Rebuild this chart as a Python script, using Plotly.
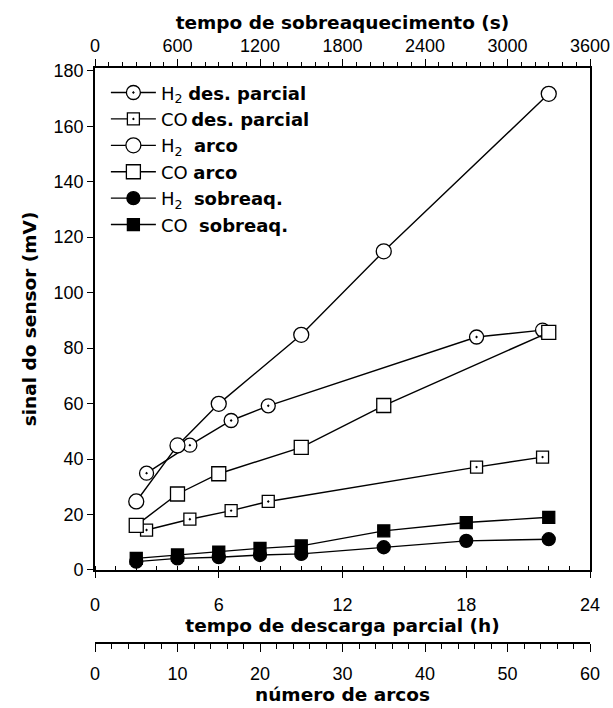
import plotly.graph_objects as go

# partial discharge time (h)
dp_h = [2.5, 4.6, 6.6, 8.4, 18.5, 21.7]
h2_dp = [34.9, 45.0, 53.9, 59.2, 84.0, 86.5]
co_dp = [14.4, 18.3, 21.4, 24.7, 37.1, 40.7]

# number of arcs
arcs = [5, 10, 15, 25, 35, 55]
h2_arco = [24.7, 44.9, 59.9, 84.8, 114.9, 171.7]
co_arco = [16.1, 27.4, 34.7, 44.2, 59.3, 85.7]

# overheating time (s)
sob_s = [300, 600, 900, 1200, 1500, 2100, 2700, 3300]
h2_sob = [3.0, 4.2, 4.6, 5.4, 5.8, 8.2, 10.5, 11.1]
co_sob = [4.2, 5.4, 6.4, 7.8, 8.7, 14.1, 17.1, 19.0]

TICK_FONT = "Liberation Sans, Arial, sans-serif"
TITLE_FONT = "DejaVu Sans, Verdana, sans-serif"
LINE = dict(color="black", width=1.4)
NB = "\u00a0"
THIN = "\u2009"

fig = go.Figure()


def add(x, y, name, axis, symbol, size, fill, group):
    fig.add_trace(go.Scatter(
        x=x, y=y, name=name, mode="lines+markers", xaxis=axis, yaxis="y",
        line=LINE, cliponaxis=False, legendgroup=group,
        marker=dict(symbol=symbol, size=size, color=fill,
                    line=dict(color="black", width=1.3)),
    ))


add(dp_h, h2_dp, "H<sub>2</sub>" + NB + "<b>des. parcial</b>", "x", "circle-dot", 14, "white", "g1")
add(dp_h, co_dp, "CO" + THIN + "<b>des. parcial</b>", "x", "square-dot", 12, "white", "g2")
add(arcs, h2_arco, "H<sub>2</sub>" + NB + NB + "<b>arco</b>", "x3", "circle", 15, "white", "g3")
add(arcs, co_arco, "CO" + NB + "<b>arco</b>", "x3", "square", 14, "white", "g4")
add(sob_s, h2_sob, "H<sub>2</sub>" + NB + NB + "<b>sobreaq.</b>", "x2", "circle", 13, "black", "g5")
add(sob_s, co_sob, "CO" + NB + NB + "<b>sobreaq.</b>", "x2", "square", 12, "black", "g6")

tickfont = dict(family=TICK_FONT, size=18, color="black")
titlefont = dict(family=TITLE_FONT, size=18.5, color="black")
common = dict(showgrid=False, zeroline=False, showline=True, linecolor="black",
              linewidth=1.6, tickcolor="black", tickfont=tickfont, automargin=False)

fig.update_layout(
    width=613, height=708,
    margin=dict(l=95, r=23, t=68, b=65, autoexpand=False),
    paper_bgcolor="white", plot_bgcolor="white",
    font=dict(family=TICK_FONT, color="black"),
    showlegend=True,
    legend=dict(x=0.022, y=0.989, xanchor="left", yanchor="top",
                bgcolor="rgba(0,0,0,0)", itemwidth=45,
                font=dict(family=TITLE_FONT, size=18, color="black"),
                tracegroupgap=0),
    yaxis=dict(
        domain=[0.127, 1], range=[0, 181], tickvals=[0, 20, 40, 60, 80, 100, 120, 140, 160, 180],
        mirror=True, ticks="outside", ticklen=6, **common,
        title=dict(text="<b>sinal do sensor (mV)</b>", font=titlefont, standoff=12),
    ),
    xaxis=dict(
        range=[0, 24], tickvals=[0, 6, 12, 18, 24], anchor="y",
        ticks="outside", ticklen=6, ticklabelstandoff=12, **common,
        minor=dict(dtick=1, ticks="inside", ticklen=4, tickcolor="black", showgrid=False),
        title=dict(text="<b>tempo de descarga parcial (h)</b>", font=titlefont, standoff=2),
    ),
    xaxis2=dict(
        range=[0, 3600], tickvals=[0, 600, 1200, 1800, 2400, 3000, 3600],
        overlaying="x", side="top", anchor="y",
        ticks="outside", ticklen=7, **common,
        minor=dict(dtick=100, ticks="outside", ticklen=4, tickcolor="black", showgrid=False),
        title=dict(text="<b>tempo de sobreaquecimento (s)</b>", font=titlefont, standoff=2),
    ),
    xaxis3=dict(
        range=[0, 60], tickvals=[0, 10, 20, 30, 40, 50, 60],
        overlaying="x", anchor="free", position=0, side="bottom",
        ticks="outside", ticklen=8, ticklabelstandoff=7, **common,
        minor=dict(dtick=2, ticks="outside", ticklen=5, tickcolor="black", showgrid=False),
        title=dict(text="<b>número de arcos</b>", font=titlefont, standoff=2),
    ),
)

fig.write_html("out.html")
